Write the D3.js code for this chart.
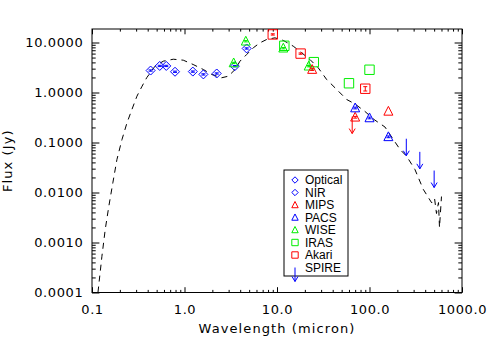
<!DOCTYPE html>
<html>
<head>
<meta charset="utf-8">
<script src="https://cdn.jsdelivr.net/npm/d3@7"></script>
<style>
  body { margin: 0; background: #fff; }
  svg { display: block; }
</style>
</head>
<body>
<svg id="chart"></svg>
<script>
// ---- data (wavelength in micron, flux in Jy) ----
var modelWave = [0.116, 0.128, 0.139, 0.152, 0.168, 0.186, 0.211, 0.239, 0.270, 0.306, 0.348, 0.39,
                 0.48, 0.59, 0.757, 0.97, 1.24, 1.6, 1.97, 2.52, 2.98, 3.52, 3.98, 4.7, 5.54, 6.55,
                 7.74, 9.5, 11.7, 15.0, 18.5, 22.7, 27.9, 34.4, 44.2, 56.7, 69.7, 89.4, 112, 147,
                 175, 214, 252, 310, 382, 470, 505, 530, 557, 571, 600];
var modelFlux = [1.0e-4, 5.3e-4, 1.82e-3, 5.3e-3, 0.0156, 0.0457, 0.115, 0.248, 0.457, 0.843, 1.34, 1.97,
                 3.36, 4.23, 4.63, 4.43, 3.63, 2.88, 2.29, 1.97, 2.12, 2.88, 4.23, 5.75, 7.83, 9.86,
                 11.5, 12.4, 11.0, 8.43, 6.22, 4.57, 3.12, 1.82, 1.15, 0.724, 0.589, 0.417, 0.288, 0.204,
                 0.126, 0.0724, 0.0532, 0.0288, 0.0115, 0.00622, 0.0076, 0.0038, 0.0063, 0.0020, 0.0083];

var opticalWave = [0.43, 0.54, 0.635, 0.79];
var opticalFlux = [2.75, 3.4, 3.4, 2.6];
var opticalErr  = [0.03, 0.03, 0.03, 0.03];

var nirWave = [1.23, 1.6, 2.23, 3.5, 4.7];
var nirFlux = [2.62, 2.3, 2.4, 3.36, 7.6];
var nirErr  = [0.03, 0.03, 0.03, 0.03, 0.03];

var mipsWave = [24, 70, 160];
var mipsFlux = [2.88, 0.32, 0.42];
var mipsErr  = [0.04, 0.04, 0.0];

var pacsWave = [70, 100, 160];
var pacsFlux = [0.49, 0.31, 0.13];
var pacsErr  = [0.04, 0.04, 0.04];

var wiseWave = [3.4, 4.6, 11.7, 22];
var wiseFlux = [3.9, 10.6, 7.7, 3.36];
var wiseErr  = [0.03, 0.03, 0.03, 0.03];

var irasWave = [12, 25, 60, 100];
var irasFlux = [8.6, 4.05, 1.53, 2.85];

var akariWave = [9, 18, 90];
var akariFlux = [14.5, 6.0, 1.19];
var akariErr  = [0.03, 0.03, 0.1];
var akariLimWave = [65];
var akariLimFlux = [0.33];

var spireWave = [250, 350, 500];
var spireLim  = [0.119, 0.065, 0.0275];

var xTickValues = [0.1, 1, 10, 100, 1000];
var xTickLabels = ["0.1", "1.0", "10.0", "100.0", "1000.0"];
var yTickValues = [1e-4, 1e-3, 1e-2, 1e-1, 1, 10];
var yTickLabels = ["0.0001", "0.0010", "0.0100", "0.1000", "1.0000", "10.0000"];

var legendNames = ["Optical", "NIR", "MIPS", "PACS", "WISE", "IRAS", "Akari", "SPIRE"];

// ---- layout ----
var BLUE = "#0000ff", RED = "#ff0000", GREEN = "#00ee00";
var margin = {top: 29, left: 92};
var width = 370, height = 263.5;

var svg = d3.select("#chart").attr("width", 490).attr("height", 350);
var g = svg.append("g")
    .attr("transform", "translate(" + margin.left + "," + margin.top + ")");

var x = d3.scaleLog().domain([0.1, 1000]).range([0, width]);
var y = d3.scaleLog().domain([1e-4, Math.pow(10, 1.27)]).range([height, 0]);

g.append("clipPath").attr("id", "clip")
  .append("rect").attr("width", width).attr("height", height);

function minorTicks(scale, lo, hi) {
  var t = [], dom = scale.domain();
  for (var e = lo; e < hi; e++)
    for (var k = 2; k < 10; k++) {
      var v = k * Math.pow(10, e);
      if (v > dom[0] && v < dom[1]) t.push(v);
    }
  return t;
}
var xMinor = minorTicks(x, -1, 3);
var yMinor = minorTicks(y, -4, 2);

var font = "'DejaVu Sans', sans-serif";

function styleAxis(sel, showText) {
  sel.select(".domain").remove();
  sel.selectAll("line").attr("stroke", "#000");
  sel.selectAll("text")
    .attr("font-family", font)
    .attr("font-size", 13)
    .attr("letter-spacing", 0.6)
    .attr("fill", "#000");
  if (!showText) sel.selectAll("text").remove();
}

// bottom
g.append("g").attr("transform", "translate(0," + height + ")")
  .call(d3.axisBottom(x).tickValues(xTickValues)
        .tickFormat(function(d, i) { return xTickLabels[i]; })
        .tickSize(-5.3).tickPadding(12))
  .call(styleAxis, true);
g.append("g").attr("transform", "translate(0," + height + ")")
  .call(d3.axisBottom(x).tickValues(xMinor).tickSize(-2.6))
  .call(styleAxis, false);
// top
g.append("g")
  .call(d3.axisTop(x).tickValues(xTickValues).tickSize(-5.3))
  .call(styleAxis, false);
g.append("g")
  .call(d3.axisTop(x).tickValues(xMinor).tickSize(-2.6))
  .call(styleAxis, false);
// left
g.append("g")
  .call(d3.axisLeft(y).tickValues(yTickValues)
        .tickFormat(function(d, i) { return yTickLabels[i]; })
        .tickSize(-7.4).tickPadding(8.7))
  .call(styleAxis, true);
g.append("g")
  .call(d3.axisLeft(y).tickValues(yMinor).tickSize(-3.7))
  .call(styleAxis, false);
// right
g.append("g").attr("transform", "translate(" + width + ",0)")
  .call(d3.axisRight(y).tickValues(yTickValues).tickSize(-7.4))
  .call(styleAxis, false);
g.append("g").attr("transform", "translate(" + width + ",0)")
  .call(d3.axisRight(y).tickValues(yMinor).tickSize(-3.7))
  .call(styleAxis, false);

// frame
g.append("rect").attr("width", width).attr("height", height)
  .attr("fill", "none").attr("stroke", "#000").attr("stroke-width", 1);

// model curve
var model = modelWave.map(function(w, i) { return {w: w, f: modelFlux[i]}; });
var line = d3.line().x(function(d) { return x(d.w); }).y(function(d) { return y(d.f); });
g.append("path").datum(model)
  .attr("clip-path", "url(#clip)")
  .attr("d", line)
  .attr("fill", "none")
  .attr("stroke", "#000")
  .attr("stroke-width", 1)
  .attr("stroke-dasharray", "6,5");

// symbols
function symbolPath(shape, r) {
  if (shape === "diamond") return "M0," + (-r) + "L" + r + ",0L0," + r + "L" + (-r) + ",0Z";
  if (shape === "triangle") return "M0," + (-r * 1.1) + "L" + r + "," + (r * 0.85) + "L" + (-r) + "," + (r * 0.85) + "Z";
  return "M" + (-r) + "," + (-r) + "H" + r + "V" + r + "H" + (-r) + "Z";
}

function drawArrow(sel, px, py, color, len) {
  sel.append("path")
    .attr("d", "M" + px + "," + py + "V" + (py + len) +
               "M" + (px - 3) + "," + (py + len - 5) + "L" + px + "," + (py + len) +
               "L" + (px + 3) + "," + (py + len - 5))
    .attr("fill", "none").attr("stroke", color).attr("stroke-width", 1);
}

var series = [
  {wave: opticalWave, flux: opticalFlux, err: opticalErr, shape: "diamond", color: BLUE},
  {wave: nirWave, flux: nirFlux, err: nirErr, shape: "diamond", color: BLUE},
  {wave: wiseWave, flux: wiseFlux, err: wiseErr, shape: "triangle", color: GREEN},
  {wave: irasWave, flux: irasFlux, err: null, shape: "square", color: GREEN},
  {wave: akariWave, flux: akariFlux, err: akariErr, shape: "square", color: RED},
  {wave: mipsWave, flux: mipsFlux, err: mipsErr, shape: "triangle", color: RED},
  {wave: pacsWave, flux: pacsFlux, err: pacsErr, shape: "triangle", color: BLUE}
];

var pts = g.append("g");
series.forEach(function(s) {
  s.wave.forEach(function(w, i) {
    var px = x(w), py = y(s.flux[i]);
    pts.append("path")
      .attr("transform", "translate(" + px + "," + py + ")")
      .attr("d", symbolPath(s.shape, s.shape === "square" ? 4.7 : 4.5))
      .attr("fill", "none").attr("stroke", s.color).attr("stroke-width", 1);
    if (s.err && s.err[i] > 0) {
      var y0 = y(s.flux[i] * (1 - s.err[i])), y1 = y(s.flux[i] * (1 + s.err[i]));
      pts.append("path")
        .attr("d", "M" + px + "," + y0 + "V" + y1 +
                   "M" + (px - 2) + "," + y0 + "H" + (px + 2) +
                   "M" + (px - 2) + "," + y1 + "H" + (px + 2))
        .attr("fill", "none").attr("stroke", s.color).attr("stroke-width", 1);
    }
  });
});

// upper limits
akariLimWave.forEach(function(w, i) { drawArrow(pts, x(w), y(akariLimFlux[i]), RED, 17); });
spireWave.forEach(function(w, i) { drawArrow(pts, x(w), y(spireLim[i]), BLUE, 17); });

// axis titles
svg.append("text")
  .attr("x", margin.left + width / 2).attr("y", 332.5)
  .attr("text-anchor", "middle")
  .attr("font-family", font).attr("font-size", 13).attr("letter-spacing", 1.1)
  .text("Wavelength (micron)");
svg.append("text")
  .attr("transform", "translate(12," + (margin.top + height / 2) + ") rotate(-90)")
  .attr("text-anchor", "middle")
  .attr("font-family", font).attr("font-size", 13).attr("letter-spacing", 1.1)
  .text("Flux (Jy)");

// legend
var legendStyle = {
  Optical: {shape: "diamond", color: BLUE}, NIR: {shape: "diamond", color: BLUE},
  MIPS: {shape: "triangle", color: RED}, PACS: {shape: "triangle", color: BLUE},
  WISE: {shape: "triangle", color: GREEN}, IRAS: {shape: "square", color: GREEN},
  Akari: {shape: "square", color: RED}, SPIRE: {shape: "arrow", color: BLUE}
};
var leg = svg.append("g");
leg.append("rect").attr("x", 284).attr("y", 170).attr("width", 64).attr("height", 106)
  .attr("fill", "#fff").attr("stroke", "#000").attr("stroke-width", 1);
legendNames.forEach(function(name, i) {
  var cy = 180 + i * 12.5, st = legendStyle[name];
  if (st.shape === "arrow") {
    drawArrow(leg, 295, cy, st.color, 14);
  } else {
    leg.append("path")
      .attr("transform", "translate(295," + cy + ")")
      .attr("d", symbolPath(st.shape, 3.2))
      .attr("fill", "none").attr("stroke", st.color).attr("stroke-width", 1);
  }
  leg.append("text")
    .attr("x", 305).attr("y", cy + 4.3)
    .attr("font-family", "'Liberation Sans', Arial, sans-serif")
    .attr("font-size", 12)
    .text(name);
});
</script>
</body>
</html>
